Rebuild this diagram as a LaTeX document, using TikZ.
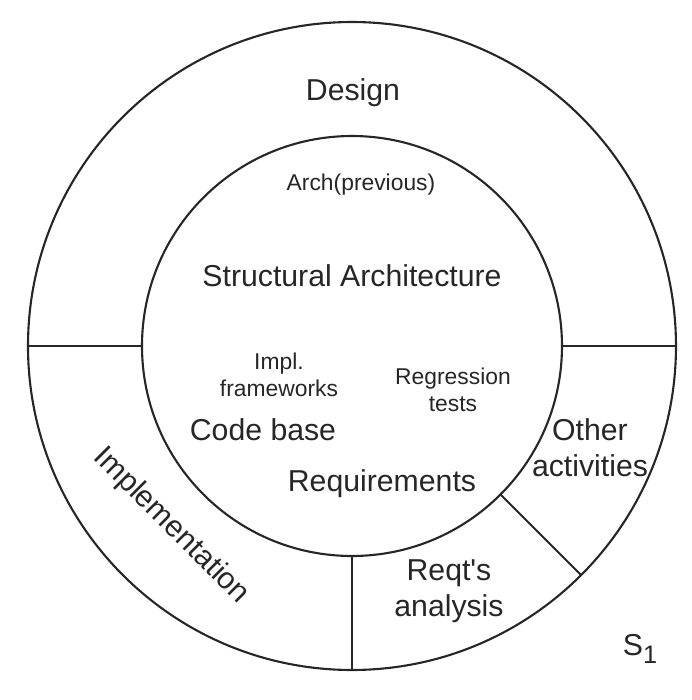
\documentclass[tikz,border=0pt]{standalone}
\usepackage{fontspec}
\setmainfont{Liberation Sans}
\usetikzlibrary{calc}

\begin{document}
\begin{tikzpicture}[line cap=round,line join=round,
  big/.style={font=\fontsize{8.6}{10.3}\selectfont,align=center,inner sep=0pt,text=black!85},
  small/.style={font=\fontsize{6.5}{7.8}\selectfont,align=center,inner sep=0pt,text=black!85}]
  \useasboundingbox (0,0) rectangle (6.92,7);
  % Rings
  \coordinate (o) at (3.52,3.54);
  \draw[line width=0.6pt,black!85] (o) circle (3.24);
  \draw[line width=0.6pt,black!85] (o) circle (2.10);
  % Sector borders in the outer ring
  \foreach \a in {0,180,270,315}
    \draw[line width=0.6pt,black!85] ($(o)+(\a:2.10)$) -- ($(o)+(\a:3.24)$);

  % Outer ring
  \node[big] (design) at (3.53,6.07) {Design};
  \node[big,rotate=-45] (impl) at (1.71,1.74) {Implementation};
  \node[big] (reqt) at (4.49,1.09) {Reqt\textquotesingle s\\analysis};
  \node[big] (other) at (5.90,2.52) {Other\\activities};
  \node[big] (s1) at (6.40,0.51) {S\raisebox{-0.45ex}{\fontsize{7.2}{7.2}\selectfont 1}};

  % Inner disc
  \node[small] (prev) at (3.61,5.15) {Arch(previous)};
  \node[big] (arch) at (3.52,4.24) {Structural Architecture};
  \node[small] (frame) at (2.79,3.25) {Impl.\\frameworks};
  \node[small] (regr) at (4.53,3.10) {Regression\\tests};
  \node[big] (code) at (2.63,2.70) {Code base};
  \node[big] (req) at (3.82,2.16) {Requirements};
\end{tikzpicture}
\end{document}
